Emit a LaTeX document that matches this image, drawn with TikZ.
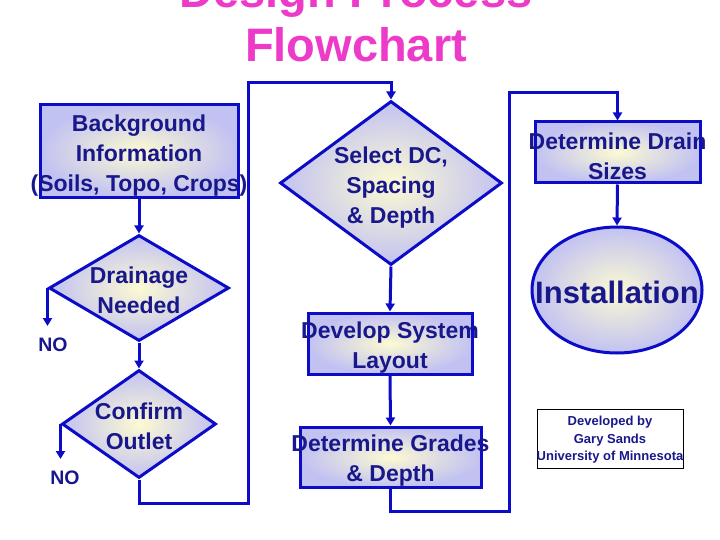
\documentclass[tikz,border=0pt]{standalone}
\usepackage{fontspec}
\setmainfont{Liberation Sans}
\usetikzlibrary{shapes.geometric,arrows.meta}
\definecolor{fcblue}{RGB}{12,12,200}
\definecolor{fcnavy}{RGB}{24,24,140}
\definecolor{fclav}{RGB}{194,194,242}
\definecolor{fcyel}{RGB}{252,250,210}
\definecolor{fcpink}{RGB}{238,58,200}
\tikzset{
  fc_txt/.style = {align=center, text=fcnavy, inner sep=0pt,
    font=\fontsize{23}{30}\selectfont\bfseries},% texte des blocs
  fc_shape/.style = {draw=fcblue, line width=3pt, inner sep=0pt,
    inner color=fcyel, outer color=fclav},
  fc_box/.style = {fc_shape, rectangle},% bloc
  fc_dec/.style = {fc_shape, diamond},% decision
  fc_end/.style = {fc_shape, ellipse},% fin
  fc_no/.style = {text=fcnavy, inner sep=0pt,
    font=\fontsize{19.5}{20}\selectfont\bfseries},
  fc_flow/.style = {draw=fcblue, line width=3pt,
    -{Triangle[length=8pt,width=9pt]}},
  fc_title/.style = {anchor=base, inner sep=0pt, text=fcpink,
    font=\fontsize{47}{50}\selectfont\bfseries}
}
\begin{document}
\begin{tikzpicture}[x=1pt,y=-1pt]
\useasboundingbox (0,0) rectangle (720,540);
% titre
\node[fc_title] (ttl1) at (356,8) {Design Process};
\node[fc_title] (ttl2) at (356,62) {Flowchart};
% colonne 1
\node[fc_box, minimum width=198pt, minimum height=93pt] (bg) at (139,151) {};
\node[fc_txt] (bgt) at (139,156) {Background\\Information\\(Soils, Topo, Crops)};
\node[fc_dec, minimum width=180pt, minimum height=106pt] (drain) at (139,288) {};
\node[fc_txt] (draint) at (139,290) {Drainage\\Needed};
\node[fc_dec, minimum width=154pt, minimum height=108pt] (conf) at (139,424) {};
\node[fc_txt] (conft) at (139,426) {Confirm\\Outlet};
\node[fc_no] (no1) at (53,345) {NO};
\node[fc_no] (no2) at (65,478) {NO};
% colonne 2
\node[fc_dec, minimum width=222pt, minimum height=164pt] (sel) at (391,183) {};
\node[fc_txt] (selt) at (391,188) {Select DC,\\Spacing\\\& Depth};
\node[fc_box, minimum width=164pt, minimum height=61pt] (dev) at (390,343.5) {};
\node[fc_txt] (devt) at (390,348) {Develop System\\Layout};
\node[fc_box, minimum width=181pt, minimum height=60pt] (grd) at (390.5,457) {};
\node[fc_txt] (grdt) at (390.5,461) {Determine Grades\\\& Depth};
% colonne 3
\node[fc_box, minimum width=165pt, minimum height=61pt] (dds) at (617.5,152.5) {};
\node[fc_txt] (ddst) at (617.5,156) {Determine Drain\\Sizes};
\node[fc_end, minimum width=170pt, minimum height=126pt] (inst) at (617,290) {};
\node[fc_txt, font=\fontsize{31}{34}\selectfont\bfseries] (instt) at (617,292) {Installation};
\node[draw=black, line width=0.8pt, minimum width=146pt, minimum height=59pt,
  inner sep=0pt] (auth) at (610,438.5) {};
\node[align=center, text=fcnavy, inner sep=0pt,
  font=\fontsize{13}{17.5}\selectfont\bfseries] (autht) at (610,440)
  {Developed by\\Gary Sands\\University of Minnesota};
% liens
\coordinate (no1end) at (50,326);
\coordinate (no2end) at (62,459);
\coordinate (loopA) at (248,503);
\coordinate (loopB) at (248,83);
\coordinate (loopC) at (509,511);
\coordinate (loopD) at (509,93);
\draw[fc_flow] (bg.south) -- (drain.north);
\draw[fc_flow] (drain.west) -- (drain.west |- no1end);
\draw[fc_flow] (drain.south) -- (conf.north);
\draw[fc_flow] (conf.west) -- (conf.west |- no2end);
\draw[fc_flow] (conf.south) |- (loopA) -- (loopB) -| (sel.north);
\draw[fc_flow] (sel.south) -- (dev.north);
\draw[fc_flow] (dev.south) -- (grd.north);
\draw[fc_flow] (grd.south) |- (loopC) -- (loopD) -| (dds.north);
\draw[fc_flow] (dds.south) -- (inst.north);
\end{tikzpicture}
\end{document}
